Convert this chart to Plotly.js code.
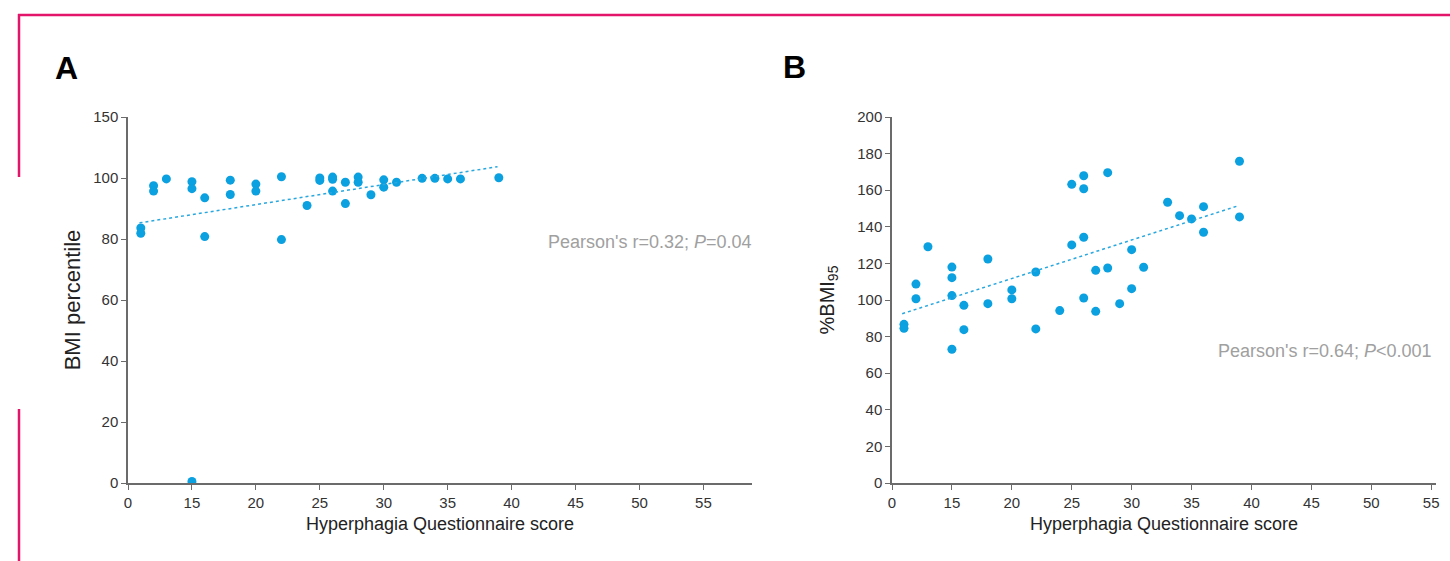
<!DOCTYPE html>
<html>
<head>
<meta charset="utf-8">
<script src="https://cdn.plot.ly/plotly-3.0.1.min.js"></script>
<style>
  html, body { margin: 0; padding: 0; background: #fff; }
  #chart { width: 1450px; height: 561px; }
</style>
</head>
<body>
<div id="chart"></div>
<script>
// Panel A: BMI percentile vs Hyperphagia Questionnaire score
const scoreA = [11, 11, 12, 12, 13, 15, 15, 15, 16, 16, 18, 18, 20, 20, 22, 22, 24, 25, 25, 26, 26, 26, 27, 27, 28, 28, 29, 30, 30, 31, 33, 34, 35, 36, 39];
const bmiPct = [83.6, 81.9, 97.5, 95.7, 99.7, 98.8, 96.5, 0.5, 93.5, 80.8, 99.3, 94.6, 98.0, 95.7, 100.4, 79.8, 91.0, 100.0, 99.2, 100.3, 99.6, 95.7, 98.6, 91.6, 100.3, 98.6, 94.5, 99.4, 97.0, 98.6, 99.9, 99.9, 99.7, 99.7, 100.1];
const trendXA = [10.9, 38.9];
const trendYA = [85.3, 103.7];

// Panel B: %BMI95 vs Hyperphagia Questionnaire score
const scoreB = [11, 11, 12, 12, 13, 15, 15, 15, 15, 16, 16, 18, 18, 20, 20, 22, 22, 24, 25, 25, 26, 26, 26, 26, 27, 27, 28, 28, 29, 30, 30, 31, 33, 34, 35, 36, 36, 39, 39];
const bmi95 = [86.7, 84.5, 108.7, 100.7, 129.1, 118.0, 112.2, 102.4, 73.1, 97.1, 83.8, 122.4, 98.0, 105.5, 100.7, 115.3, 84.2, 94.2, 163.2, 130.1, 167.9, 160.8, 134.3, 101.1, 116.2, 93.8, 169.6, 117.5, 98.0, 127.5, 106.2, 117.9, 153.4, 146.1, 144.3, 151.0, 137.0, 175.8, 145.4];
const trendXB = [10.85, 38.9];
const trendYB = [92.5, 151.5];

// Axis tick labels (broken axes: first x tick labelled 0, top y tick of A labelled 150)
const xTickVals = [10, 15, 20, 25, 30, 35, 40, 45, 50, 55];
const xTickText = ["0", "15", "20", "25", "30", "35", "40", "45", "50", "55"];
const yTickValsA = [0, 20, 40, 60, 80, 100, 120];
const yTickTextA = ["0", "20", "40", "60", "80", "100", "150"];
const yTickValsB = [0, 20, 40, 60, 80, 100, 120, 140, 160, 180, 200];

const dotColor = "#0ba0e0";
const lineColor = "#29a8e0";
const axisColor = "#6b6b6b";
const FONT = "Liberation Sans, Arial, sans-serif";
const W = 1450, H = 561;

const traces = [
  { x: scoreA, y: bmiPct, xaxis: "x", yaxis: "y", type: "scatter", mode: "markers",
    marker: { color: dotColor, size: 9 }, hoverinfo: "x+y" },
  { x: trendXA, y: trendYA, xaxis: "x", yaxis: "y", type: "scatter", mode: "lines",
    line: { color: lineColor, width: 1.5, dash: "dot" }, hoverinfo: "skip" },
  { x: scoreB, y: bmi95, xaxis: "x2", yaxis: "y2", type: "scatter", mode: "markers",
    marker: { color: dotColor, size: 9 }, hoverinfo: "x+y" },
  { x: trendXB, y: trendYB, xaxis: "x2", yaxis: "y2", type: "scatter", mode: "lines",
    line: { color: lineColor, width: 1.5, dash: "dot" }, hoverinfo: "skip" }
];

const yDom = [1 - 483 / H, 1 - 117 / H];

function xAxis(domain, range) {
  return {
    domain: domain, range: range, tickmode: "array", tickvals: xTickVals, ticktext: xTickText,
    showline: true, linecolor: axisColor, linewidth: 1.5, ticks: "outside", ticklen: 5,
    tickcolor: axisColor, tickwidth: 1, showgrid: false, zeroline: false,
    tickfont: { family: FONT, size: 15, color: "#333" },
    title: { text: "Hyperphagia Questionnaire score", font: { family: FONT, size: 18, color: "#222" }, standoff: 8 },
    automargin: false, fixedrange: true
  };
}
function yAxis(range, vals, text, title, anchor, fsize, standoff) {
  return {
    domain: yDom, range: range, tickmode: "array", tickvals: vals, ticktext: text, anchor: anchor,
    showline: true, linecolor: axisColor, linewidth: 1.5, ticks: "outside", ticklen: 5,
    tickcolor: axisColor, tickwidth: 1, showgrid: false, zeroline: false,
    tickfont: { family: FONT, size: 15, color: "#333" },
    title: { text: title, font: { family: FONT, size: fsize, color: "#222" }, standoff: standoff },
    automargin: false, fixedrange: true
  };
}

const pink = "#e2156b";
const layout = {
  width: W, height: H,
  margin: { l: 0, r: 0, t: 0, b: 0 },
  paper_bgcolor: "#fff", plot_bgcolor: "#fff",
  showlegend: false,
  font: { family: FONT },
  xaxis: xAxis([128 / W, 752 / W], [10, 58.8]),
  yaxis: yAxis([0, 120], yTickValsA, yTickTextA, "BMI percentile", "x", 22, 7),
  xaxis2: xAxis([892 / W, 1436 / W], [10, 55.4]),
  yaxis2: yAxis([0, 200], yTickValsB, yTickValsB.map(String), "%BMI<sub>95</sub>", "x2", 20, 17),
  shapes: [
    { type: "line", xref: "paper", yref: "paper", x0: 18 / W, x1: 1, y0: 1 - 15 / H, y1: 1 - 15 / H, line: { color: pink, width: 2.5 } },
    { type: "line", xref: "paper", yref: "paper", x0: 19 / W, x1: 19 / W, y0: 1 - 14 / H, y1: 1 - 177 / H, line: { color: pink, width: 2.5 } },
    { type: "line", xref: "paper", yref: "paper", x0: 19 / W, x1: 19 / W, y0: 1 - 409 / H, y1: 0, line: { color: pink, width: 2.5 } }
  ],
  annotations: [
    { text: "<b>A</b>", xref: "paper", yref: "paper", x: 53 / W, y: 1 - 68 / H, xanchor: "left", yanchor: "middle",
      showarrow: false, font: { family: FONT, size: 32, color: "#000" } },
    { text: "<b>B</b>", xref: "paper", yref: "paper", x: 781 / W, y: 1 - 67 / H, xanchor: "left", yanchor: "middle",
      showarrow: false, font: { family: FONT, size: 32, color: "#000" } },
    { text: "Pearson's r=0.32; <i>P</i>=0.04", xref: "paper", yref: "paper", x: 754 / W, y: 1 - 242 / H,
      xanchor: "right", yanchor: "middle", showarrow: false, font: { family: FONT, size: 18, color: "#a0a0a0" } },
    { text: "Pearson's r=0.64; <i>P</i><0.001", xref: "paper", yref: "paper", x: 1434 / W, y: 1 - 351 / H,
      xanchor: "right", yanchor: "middle", showarrow: false, font: { family: FONT, size: 18, color: "#a0a0a0" } }
  ]
};

Plotly.newPlot("chart", traces, layout, { displayModeBar: false });
</script>
</body>
</html>
